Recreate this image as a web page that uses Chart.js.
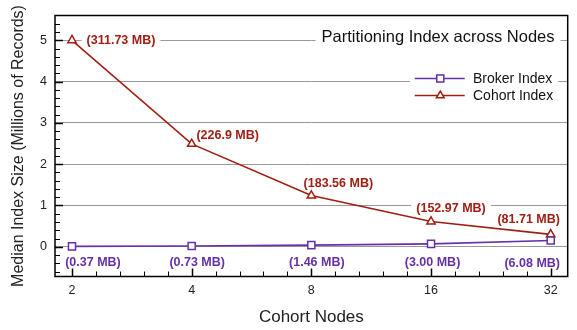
<!DOCTYPE html>
<html>
<head>
<meta charset="utf-8">
<script src="https://cdn.jsdelivr.net/npm/chart.js@4/dist/chart.umd.min.js"></script>
<style>
  html, body { margin: 0; padding: 0; background: #fff; }
  #wrap { width: 577px; height: 330px; }
</style>
</head>
<body>
<div id="wrap"><canvas id="c" width="577" height="330"></canvas></div>
<script>
// ---- data ----
const nodes = [2, 4, 8, 16, 32];
const brokerIndex = [0.01, 0.02, 0.04, 0.07, 0.15];
const cohortIndex = [5.0, 2.49, 1.24, 0.61, 0.30];
const brokerSizeLabels = ['(0.37 MB)', '(0.73 MB)', '(1.46 MB)', '(3.00 MB)', '(6.08 MB)'];
const cohortSizeLabels = ['(311.73 MB)', '(226.9 MB)', '(183.56 MB)', '(152.97 MB)', '(81.71 MB)'];
const yTicks = [0, 1, 2, 3, 4, 5];
const seriesNames = ['Broker Index', 'Cohort Index'];
const chartTitle = 'Partitioning Index across Nodes';

// ---- style ----
const FONT = '"Liberation Sans", Arial, Helvetica, sans-serif';
const BROKER = '#6630a8';
const COHORT = '#a01e12';
const brokerLabelPlace = [{dx: 21, dy: 16}, {dx: 5.5, dy: 16}, {dx: 5.5, dy: 17}, {dx: 1.5, dy: 18.5}, {dx: -18.5, dy: 22}];
const cohortLabelPlace = [{dx: 49, dy: 0}, {dx: 36, dy: -9}, {dx: 27, dy: -12.5}, {dx: 20, dy: -14}, {dx: -22, dy: -15}];

const decor = {
  id: 'decor',
  beforeDatasetsDraw(chart) {
    const {ctx, chartArea: a, scales: {x, y}} = chart;
    ctx.save();
    // point value labels
    ctx.font = 'bold 12.5px ' + FONT;
    ctx.textAlign = 'center';
    ctx.textBaseline = 'middle';
    const drawLabels = (vals, labels, place, color) => {
      vals.forEach((v, j) => {
        const px = x.getPixelForValue(nodes[j]) + place[j].dx;
        const py = y.getPixelForValue(v) + place[j].dy;
        const w = ctx.measureText(labels[j]).width;
        ctx.fillStyle = '#fff';
        ctx.fillRect(px - w / 2 - 5, py - 8, w + 10, 16);
        ctx.fillStyle = color;
        ctx.fillText(labels[j], px, py + 0.5);
      });
    };
    drawLabels(cohortIndex, cohortSizeLabels, cohortLabelPlace, COHORT);
    drawLabels(brokerIndex, brokerSizeLabels, brokerLabelPlace, BROKER);

    // title inside plot
    ctx.font = '16.5px ' + FONT;
    const tx = a.right - 129.7, ty = a.top + 21.5;
    const tw = ctx.measureText(chartTitle).width;
    ctx.fillStyle = '#fff';
    ctx.fillRect(tx - tw / 2 - 6, ty - 10, tw + 12, 20);
    ctx.fillStyle = '#111';
    ctx.fillText(chartTitle, tx, ty + 0.5);

    // legend inside plot
    const lx0 = a.right - 157.7;
    ctx.fillStyle = '#fff';
    ctx.fillRect(lx0, a.top + 54, 148, 42);
    const rows = [
      {name: seriesNames[0], color: BROKER, style: 'rect', r: 5},
      {name: seriesNames[1], color: COHORT, style: 'triangle', r: 4.5}
    ];
    ctx.font = '14px ' + FONT;
    ctx.textAlign = 'left';
    rows.forEach((row, i) => {
      const ly = a.top + 63 + i * 17;
      ctx.strokeStyle = row.color;
      ctx.lineWidth = 1.5;
      ctx.beginPath();
      ctx.moveTo(a.right - 153, ly);
      ctx.lineTo(a.right - 103, ly);
      ctx.stroke();
      ctx.fillStyle = '#fff';
      ctx.lineWidth = 1.5;
      Chart.helpers.drawPoint(ctx, {pointStyle: row.style, radius: row.r, rotation: 0, borderWidth: 1.5}, a.right - 127.4, ly);
      ctx.fillStyle = '#111';
      ctx.fillText(row.name, a.right - 94.7, ly + 0.5);
    });
    ctx.restore();
  },
  afterDraw(chart) {
    const {ctx, chartArea: a, scales: {x, y}} = chart;
    ctx.save();
    ctx.strokeStyle = '#000';
    ctx.lineWidth = 1;
    // y ticks (inside)
    for (let k = -3; k <= 28; k++) {
      const v = k * 0.2;
      const py = Math.round(y.getPixelForValue(v)) + 0.5;
      if (py < a.top + 1 || py > a.bottom - 1) continue;
      const major = k % 5 === 0;
      ctx.lineWidth = major ? 1.5 : 1;
      ctx.beginPath();
      ctx.moveTo(a.left, py);
      ctx.lineTo(a.left + (major ? 8 : 5), py);
      ctx.stroke();
    }
    // x ticks (inside), fifths of each doubling
    for (let k = 0; k <= 30; k++) {
      const v = Math.pow(2, k / 5);
      const px = Math.round(x.getPixelForValue(v)) + 0.5;
      if (px < a.left + 1 || px > a.right - 1) continue;
      const major = k % 5 === 0;
      ctx.lineWidth = major ? 1.5 : 1;
      ctx.beginPath();
      ctx.moveTo(px, a.bottom);
      ctx.lineTo(px, a.bottom - (major ? 8 : 5));
      ctx.stroke();
    }
    // box
    ctx.lineWidth = 1.5;
    ctx.strokeRect(a.left, a.top, a.right - a.left, a.bottom - a.top);
    ctx.restore();
  }
};

new Chart(document.getElementById('c'), {
  type: 'line',
  data: {
    datasets: [
      {
        label: seriesNames[0],
        data: nodes.map((n, i) => ({x: n, y: brokerIndex[i]})),
        borderColor: BROKER,
        backgroundColor: '#fff',
        borderWidth: 1.6,
        pointStyle: 'rect',
        pointRadius: 5,
        pointBorderWidth: 1.5,
        pointBackgroundColor: '#fff',
        pointBorderColor: BROKER,
        tension: 0
      },
      {
        label: seriesNames[1],
        data: nodes.map((n, i) => ({x: n, y: cohortIndex[i]})),
        borderColor: COHORT,
        backgroundColor: '#fff',
        borderWidth: 1.6,
        pointStyle: 'triangle',
        pointRadius: 4.8,
        pointBorderWidth: 1.5,
        pointBackgroundColor: '#fff',
        pointBorderColor: COHORT,
        tension: 0
      }
    ]
  },
  options: {
    responsive: false,
    animation: false,
    devicePixelRatio: 1,
    layout: {padding: {top: 7.5, right: 9.3, left: 0, bottom: 0}},
    plugins: {legend: {display: false}, tooltip: {enabled: false}, title: {display: false}},
    scales: {
      x: {
        type: 'logarithmic',
        min: Math.pow(2, 0.858),
        max: Math.pow(2, 5.142),
        afterBuildTicks: s => { s.ticks = nodes.map(v => ({value: v})); },
        afterFit: s => { s.height = 53.5; },
        ticks: {
          callback: v => String(v),
          font: {family: FONT, size: 12.5},
          color: '#222',
          padding: 7,
          maxRotation: 0,
          autoSkip: false
        },
        grid: {display: false, drawTicks: false},
        border: {display: false},
        title: {display: true, text: 'Cohort Nodes', font: {family: FONT, size: 17}, color: '#222', padding: {top: 0, bottom: 2}}
      },
      y: {
        type: 'linear',
        min: -0.72,
        max: 5.6,
        afterBuildTicks: s => { s.ticks = yTicks.map(v => ({value: v})); },
        afterFit: s => { s.width = 55; },
        ticks: {
          font: {family: FONT, size: 12.5},
          color: '#222',
          padding: 8
        },
        grid: {color: '#999', lineWidth: 1, drawTicks: false},
        border: {display: false},
        title: {display: true, text: 'Median Index Size (Millions of Records)', font: {family: FONT, size: 16}, color: '#222', padding: {top: 9, bottom: 0}}
      }
    }
  },
  plugins: [decor]
});
</script>
</body>
</html>
